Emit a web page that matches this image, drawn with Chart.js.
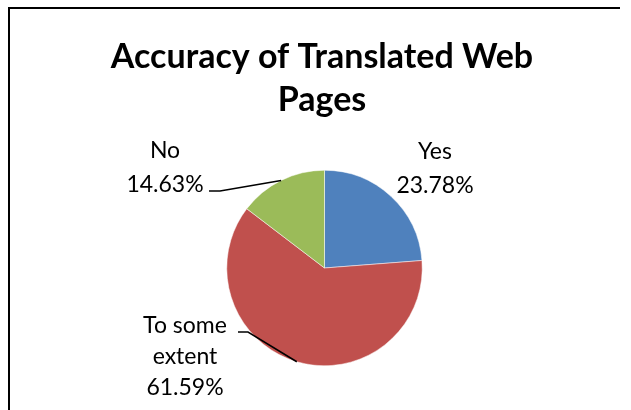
<!DOCTYPE html>
<html><head><meta charset="utf-8">
<script src="https://cdn.jsdelivr.net/npm/chart.js@4/dist/chart.umd.min.js"></script>
<style>html,body{margin:0;padding:0;background:#fff}</style>
</head><body>
<canvas id="c" width="631" height="410" style="display:block;width:631px;height:410px"></canvas>
<script>
const chartTitle = ['Accuracy of Translated Web', 'Pages'];
const categories = ['Yes', 'To some extent', 'No'];
const shares = [23.78, 61.59, 14.63];
const sliceColors = ['#4F81BD', '#C0504D', '#9BBB59'];

// label block centres (first line) and leader-line elbows
const labelLayout = [
  { x: 435, y: 152, lineGap: 34, elbow: null },
  { x: 185, y: 326, lineGap: 31, elbow: [248, 332], end: [238, 332] },
  { x: 165, y: 151, lineGap: 34, elbow: [220, 191], end: [209, 191] }
];

const FONT = "Lato, 'Open Sans', sans-serif";

function wrap(ctx, text, maxW) {
  const words = text.split(' ');
  const lines = [];
  let cur = '';
  for (const w of words) {
    const t = cur ? cur + ' ' + w : w;
    if (cur && ctx.measureText(t).width > maxW) { lines.push(cur); cur = w; }
    else cur = t;
  }
  if (cur) lines.push(cur);
  return lines;
}

const deco = {
  id: 'deco',
  beforeDraw(chart) {
    const ctx = chart.ctx;
    ctx.save();
    ctx.fillStyle = '#fff';
    ctx.fillRect(0, 0, chart.width, chart.height);
    ctx.strokeStyle = '#000';
    ctx.lineWidth = 2;
    ctx.beginPath();
    ctx.moveTo(9, chart.height);
    ctx.lineTo(9, 8);
    ctx.lineTo(620, 8);
    ctx.stroke();
    ctx.fillStyle = '#000';
    ctx.font = "bold 34px " + FONT;
    ctx.textAlign = 'center';
    ctx.textBaseline = 'middle';
    ctx.fillText(chartTitle[0], 322, 57);
    ctx.fillText(chartTitle[1], 322, 100);
    ctx.restore();
  },
  afterDatasetsDraw(chart) {
    const ctx = chart.ctx;
    const meta = chart.getDatasetMeta(0);
    ctx.save();
    ctx.font = "23px " + FONT;
    ctx.fillStyle = '#000';
    ctx.textAlign = 'center';
    ctx.textBaseline = 'middle';
    meta.data.forEach((arc, i) => {
      const lay = labelLayout[i];
      const lines = wrap(ctx, categories[i], 110);
      lines.push(shares[i].toFixed(2) + '%');
      lines.forEach((l, k) => ctx.fillText(l, lay.x, lay.y + k * lay.lineGap));
      if (lay.elbow) {
        const p = arc.getProps(['x', 'y', 'startAngle', 'endAngle', 'outerRadius'], true);
        const mid = (p.startAngle + p.endAngle) / 2;
        const ex = p.x + Math.cos(mid) * p.outerRadius;
        const ey = p.y + Math.sin(mid) * p.outerRadius;
        ctx.strokeStyle = '#000';
        ctx.lineWidth = 1.5;
        ctx.beginPath();
        ctx.moveTo(ex, ey);
        ctx.lineTo(lay.elbow[0], lay.elbow[1]);
        ctx.lineTo(lay.end[0], lay.end[1]);
        ctx.stroke();
      }
    });
    ctx.restore();
  }
};

new Chart(document.getElementById('c'), {
  type: 'pie',
  data: {
    labels: categories,
    datasets: [{
      data: shares,
      backgroundColor: sliceColors,
      borderColor: '#ffffff',
      borderWidth: 0.5,
      hoverOffset: 0
    }]
  },
  options: {
    responsive: false,
    animation: false,
    devicePixelRatio: 1,
    layout: { padding: { top: 170, bottom: 44, left: 25, right: 7 } },
    plugins: {
      legend: { display: false },
      title: { display: false },
      tooltip: { enabled: false }
    }
  },
  plugins: [deco]
});
</script>
</body></html>
